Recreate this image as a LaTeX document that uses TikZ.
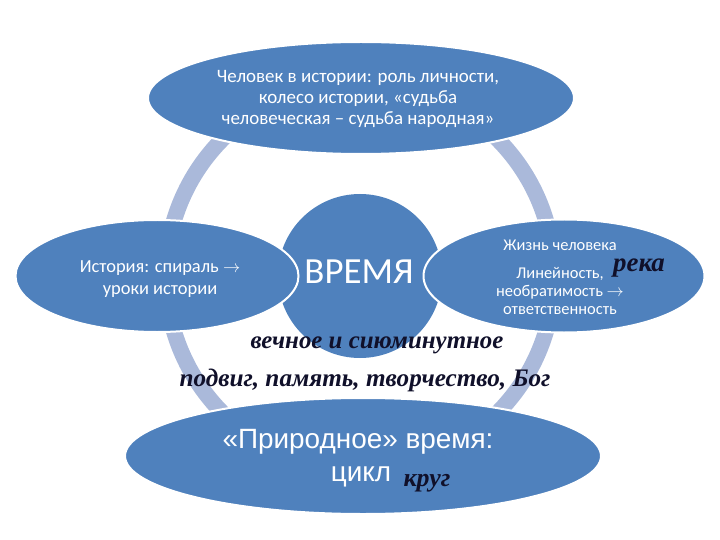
\documentclass[tikz,border=0pt]{standalone}
\usepackage{fontspec}
\setmainfont{Carlito}
\newfontfamily\arialf{Liberation Sans}
\newfontfamily\scriptf{Liberation Serif}
\usetikzlibrary{shapes.geometric}
\definecolor{blob}{HTML}{4F81BD}
\definecolor{ringc}{HTML}{AAB9DA}
\definecolor{inkc}{HTML}{10102A}
\tikzset{
  blobshape/.style={ellipse, fill=blob, draw=white, line width=2bp, inner sep=0pt},
  wtext/.style={text=white, align=center, inner sep=0pt},
  stext/.style={text=inkc, inner sep=0pt},
}
\begin{document}
\begin{tikzpicture}[x=1bp,y=-1bp]
\useasboundingbox (0,0) rectangle (720,540);
% ring
\draw[ringc, line width=16bp] (360,276) circle[radius=194bp];
% ellipses
\node[blobshape, minimum width=426bp, minimum height=112bp] (top) at (361,98) {};
\node[blobshape, minimum width=476bp, minimum height=116bp] (bot) at (363,456) {};
\node[blobshape, circle, draw=none, minimum size=164bp] (mid) at (360,276) {};
\node[blobshape, minimum width=283bp, minimum height=112bp] (left) at (157,276) {};
\node[blobshape, minimum width=281bp, minimum height=113bp] (right) at (564,276) {};
% texts
\node[wtext, font=\fontsize{19}{21}\selectfont] (ttop) at (358,99)
  {Человек в истории: роль личности,\\колесо истории, «судьба\\человеческая – судьба народная»};
\node[wtext, font=\fontsize{18.5}{22}\selectfont] (tleft) at (160,279)
  {История: спираль $\rightarrow$\\уроки истории};
\node[wtext, font=\fontsize{37}{40}\selectfont] (tmid) at (359,272) {ВРЕМЯ};
\node[wtext, font=\fontsize{16.5}{18}\selectfont] (tr1) at (560,245) {Жизнь человека};
\node[wtext, font=\fontsize{16.5}{18.5}\selectfont] (tr2) at (560,291)
  {Линейность,\\необратимость $\rightarrow$\\ответственность};
\node[stext, font=\scriptf\bfseries\itshape\fontsize{27}{30}\selectfont] (reka) at (639,268) {река};
\node[stext, font=\scriptf\bfseries\itshape\fontsize{25}{28}\selectfont] (t1) at (377,345) {вечное и сиюминутное};
\node[stext, font=\scriptf\bfseries\itshape\fontsize{25.3}{28}\selectfont] (t2) at (365,380) {подвиг, память, творчество, Бог};
\node[wtext, font=\arialf\fontsize{28}{32}\selectfont] (tb1) at (358,442) {«Природное» время:};
\node[wtext, font=\arialf\fontsize{28}{32}\selectfont] (tb2) at (361,477) {цикл};
\node[stext, font=\scriptf\bfseries\itshape\fontsize{26}{30}\selectfont] (krug) at (427,483) {круг};
\end{tikzpicture}
\end{document}
